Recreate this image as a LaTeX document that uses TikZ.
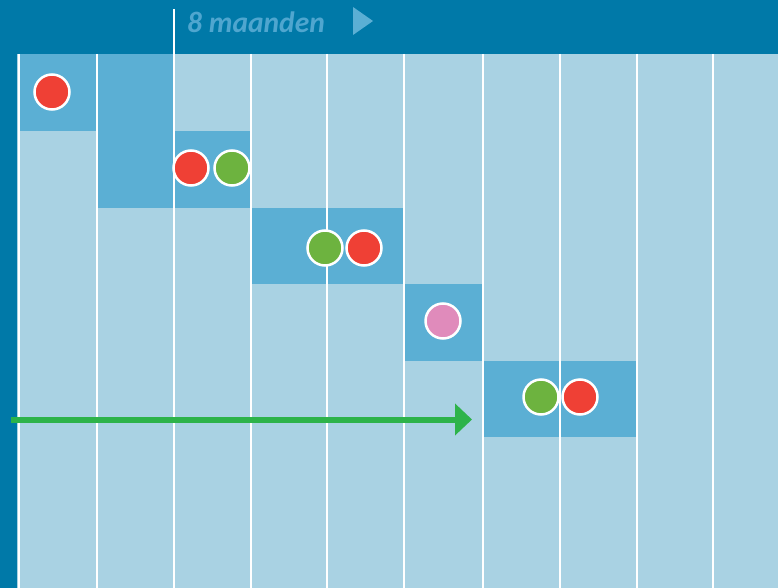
\documentclass[tikz,border=0pt]{standalone}
\usepackage{fontspec}
\setmainfont{Carlito}
\usetikzlibrary{arrows.meta}
\definecolor{hdr}{HTML}{0079A8}
\definecolor{bgl}{HTML}{A9D2E3}
\definecolor{blk}{HTML}{5BAFD4}
\definecolor{hdrtxt}{HTML}{4FA6CF}
\definecolor{dred}{HTML}{EF4035}
\definecolor{dgreen}{HTML}{6DB33F}
\definecolor{dpink}{HTML}{E08BBB}
\definecolor{arrgreen}{HTML}{2DB34A}
\tikzset{
  dot/.style={circle,draw=white,line width=2.5pt,minimum size=35pt,inner sep=0pt},
  reddot/.style={dot,fill=dred},
  greendot/.style={dot,fill=dgreen},
  pinkdot/.style={dot,fill=dpink},
  blockbox/.style={fill=blk},
  colline/.style={draw=white,line width=2pt},
  timearrow/.style={draw=arrgreen,line width=6pt,-{Triangle[length=17pt,width=31pt]}}
}
\begin{document}
\begin{tikzpicture}[x=1pt,y=-1pt]
\useasboundingbox (0,0) rectangle (778,588);
% backgrounds
\fill[bgl] (0,0) rectangle (778,588);
\fill[hdr] (0,0) rectangle (778,54);
\fill[hdr] (0,0) rectangle (17,588);
% blocks
\fill[blockbox] (19,54) rectangle (97,131);
\fill[blockbox] (97,54) rectangle (174,208);
\fill[blockbox] (174,131) rectangle (251,208);
\fill[blockbox] (251,208) rectangle (404,284);
\fill[blockbox] (404,284) rectangle (483,361);
\fill[blockbox] (483,361) rectangle (637,437);
% column lines
\foreach \x in {19,97,251,327,404,483,560,637,713}
  \draw[colline] (\x,54) -- (\x,588);
\draw[colline] (174,9) -- (174,588);
% header
\node[anchor=base west,inner sep=0pt,text=hdrtxt,font=\fontsize{29.5}{30}\selectfont\bfseries\itshape] (title) at (187,33) {8 maanden};
\fill[blk] (353,7) -- (373,21) -- (353,35) -- cycle;
% arrow
\coordinate (as) at (11,419.5);
\coordinate (ae) at (472,419.5);
\draw[timearrow] (as) -- (ae);
% dots
\node[reddot] (r1) at (52,92) {};
\node[reddot] (r2) at (191,168) {};
\node[greendot] (g2) at (232,168) {};
\node[greendot] (g3) at (325,248) {};
\node[reddot] (r3) at (364,248) {};
\node[pinkdot] (p4) at (443,321) {};
\node[greendot] (g5) at (541,397) {};
\node[reddot] (r5) at (580,397) {};
\end{tikzpicture}
\end{document}
